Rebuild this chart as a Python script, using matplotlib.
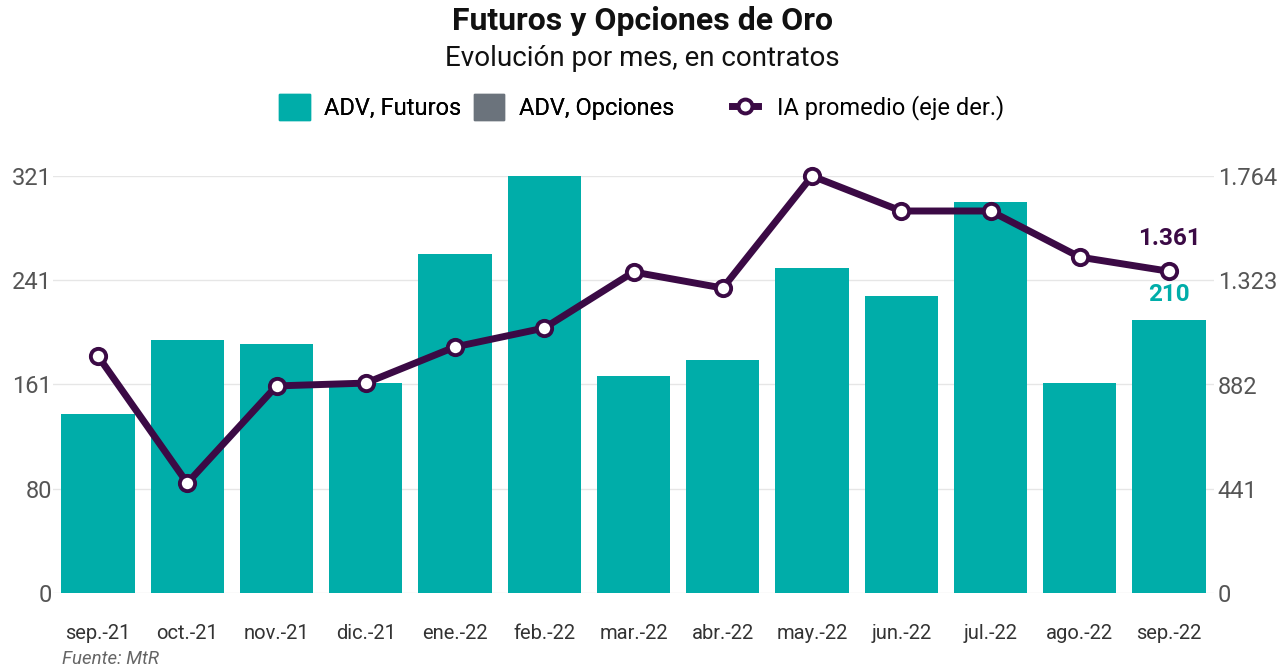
import matplotlib.pyplot as plt
from matplotlib.patches import Patch
from matplotlib.lines import Line2D

# === DATA ===
months = ["sep.-21", "oct.-21", "nov.-21", "dic.-21", "ene.-22", "feb.-22", "mar.-22",
          "abr.-22", "may.-22", "jun.-22", "jul.-22", "ago.-22", "sep.-22"]
adv_futuros = [138, 195, 192, 162, 261, 321, 167, 179, 250, 229, 301, 162, 210]
adv_opciones = [0, 0, 0, 0, 0, 0, 0, 0, 0, 0, 0, 0, 0]
ia_promedio = [1002, 465, 876, 888, 1041, 1121, 1358, 1290, 1764, 1616, 1616, 1421, 1361]
left_ticks = [0, 80, 161, 241, 321]
right_ticks = [0, 441, 882, 1323, 1764]

TEAL = "#00ADA9"
GRAY = "#6B737C"
PURPLE = "#3B0A45"

plt.rcParams["font.family"] = ["Roboto", "DejaVu Sans"]

fig = plt.figure(figsize=(12.84, 6.69), dpi=100)
ax = fig.add_axes([0.0416, 0.1136, 0.9036, 0.6233])
ax2 = ax.twinx()

x = range(len(months))
ax.bar(x, adv_futuros, width=0.82, color=TEAL, zorder=2)
ax.bar(x, adv_opciones, width=0.82, bottom=adv_futuros, color=GRAY, zorder=2)

ax2.plot(x, ia_promedio, color=PURPLE, lw=5, marker="o", ms=11,
         mfc="white", mec=PURPLE, mew=2.8, clip_on=False, zorder=3)

ax.set_xlim(-0.5, len(months) - 0.5)
ax.set_ylim(0, 321)
ax2.set_ylim(0, 1764)
ax.set_yticks(left_ticks)
ax.set_yticklabels([str(t) for t in left_ticks])
ax2.set_yticks(right_ticks)
ax2.set_yticklabels([f"{t:,}".replace(",", ".") for t in right_ticks])
ax.set_xticks(list(x))
ax.set_xticklabels(months)

ax.grid(axis="y", color="#e6e6e6", lw=1, zorder=0)
ax.set_axisbelow(True)
for a in (ax, ax2):
    for s in a.spines.values():
        s.set_visible(False)
    a.tick_params(length=0)
ax.tick_params(axis="y", labelsize=17, labelcolor="#555555", pad=1)
ax2.tick_params(axis="y", labelsize=17, labelcolor="#555555", pad=3)
ax.tick_params(axis="x", labelsize=14.5, labelcolor="#333333", pad=22)

# last value labels
ax2.annotate("1.361", (12, ia_promedio[-1]), xytext=(0, 33), textcoords="offset pixels",
             ha="center", va="center", fontsize=17.5, fontweight="bold", color=PURPLE)
ax.annotate(str(adv_futuros[-1]), (12, adv_futuros[-1]), xytext=(0, 26), textcoords="offset pixels",
            ha="center", va="center", fontsize=17.5, fontweight="bold", color=TEAL)

# titles
fig.text(0.5, 0.968, "Futuros y Opciones de Oro", ha="center", va="center",
         fontsize=23, fontweight="bold", color="#111111")
fig.text(0.5, 0.913, "Evolución por mes, en contratos", ha="center", va="center",
         fontsize=20, color="#111111")

bar_handles = [
    Patch(color=TEAL, label="ADV, Futuros"),
    Patch(color=GRAY, label="ADV, Opciones"),
]
line_handle = [Line2D([], [], color=PURPLE, lw=5, marker="o", ms=10, mfc="white",
                      mec=PURPLE, mew=2.8, label="IA promedio (eje der.)")]
leg1 = fig.legend(handles=bar_handles, loc="center", bbox_to_anchor=(0.371, 0.840), ncol=2,
                  frameon=False, fontsize=17, handlelength=1.3, handleheight=1.3,
                  columnspacing=0.55, handletextpad=0.6)
fig.add_artist(leg1)
fig.legend(handles=line_handle, loc="center", bbox_to_anchor=(0.676, 0.840),
           frameon=False, fontsize=17, handlelength=1.1, handletextpad=0.8)

fig.text(0.048, 0.002, "Fuente: MtR", ha="left", va="bottom", fontsize=13.4,
         style="italic", color="#666666")

fig.savefig("out.png", dpi=100)
